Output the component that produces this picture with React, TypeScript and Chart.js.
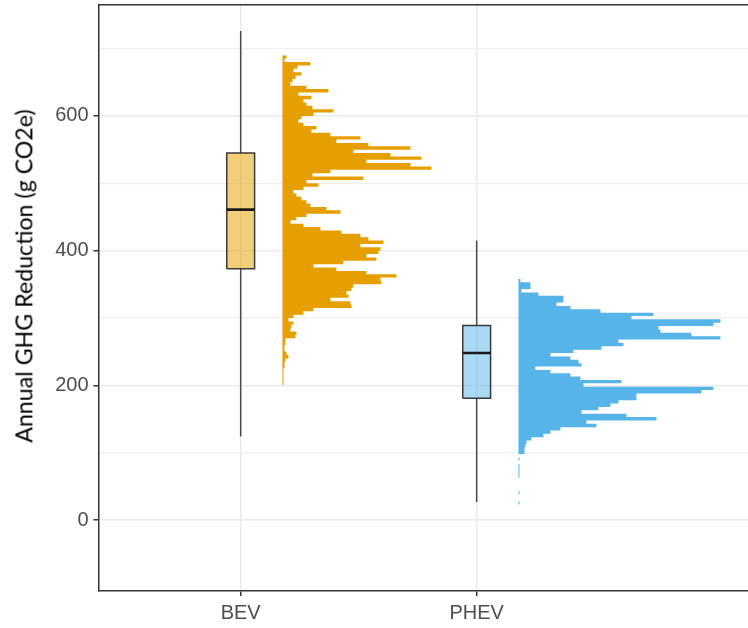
import React, { useEffect, useRef } from "react";
import { Chart, registerables } from "chart.js";

Chart.register(...registerables);

// ---------------- data ----------------
const CATEGORIES = ["BEV", "PHEV"];
const CATEGORY_POS = [1, 2];
const Y_TICKS = [0, 200, 400, 600];

// box plot statistics (g CO2e)
const WHISKER_LOW = [124, 27];
const Q1 = [373, 181];
const MEDIAN = [461, 248];
const Q3 = [545, 289];
const WHISKER_HIGH = [726, 415];

// histograms: bin width 5, counts listed from the top bin downwards
const BIN_WIDTH = 5;
const BEV_HIST_TOP = 690;
const BEV_COUNTS = [
  4, 2, 28, 15, 11, 19, 13, 10, 8, 24,
  46, 16, 29, 21, 24, 30, 51, 31, 19, 16,
  21, 34, 29, 48, 78, 54, 86, 128, 71, 108,
  139, 84, 128, 149, 48, 30, 81,
  24, 36, 21, 11, 14, 19, 24, 28, 44, 58,
  24, 14, 8, 21, 38, 59, 78, 86, 101, 78,
  98, 96, 84, 94, 61, 31, 54, 84, 114, 98,
  99, 71, 69, 64, 66, 48, 68, 69, 31, 21,
  11, 6, 11, 9, 8, 14, 13, 3, 3, 2,
  2, 4, 6, 3, 2, 2, 1, 1, 1, 1, 1,
];
const PHEV_HIST_TOP = 358;
const PHEV_COUNTS = [
  2, 12, 12, 3, 20, 45, 45, 38, 52, 82,
  135, 113, 202, 195, 140, 142, 173, 202, 100, 105,
  83, 55, 32, 52, 60, 63, 17, 32, 52, 62,
  103, 65, 195, 183, 118, 118, 100, 92, 80, 63,
  108, 138, 68, 78, 42, 32, 25, 13, 8, 7,
  6, 6, 0, 1, 0, 1, 1, 1, 1, 0,
  0, 0, 0, 1, 0, 0, 1,
];

// ---------------- styling / layout constants ----------------
const BOX_HALF = 0.059;
const HIST_OFFSET = 0.177;
const HIST_SCALE = 1 / 236;
const X_MIN = 0.3975;
const X_MAX = 3.243;
const Y_MIN = -105.3;
const Y_MAX = 765.5;

const HIST_COLORS = ["#E69F00", "#56B4E9"];
const BOX_COLORS = ["rgba(230,159,0,0.52)", "rgba(86,180,233,0.5)"];
const TICK_FONT = { family: "'Liberation Sans', Arial, sans-serif", size: 20 };

function histOutline(base: number, top: number, counts: number[]) {
  const pts: { x: number; y: number }[] = [{ x: base, y: top }];
  counts.forEach((c, i) => {
    const hi = top - i * BIN_WIDTH;
    const lo = hi - BIN_WIDTH;
    pts.push({ x: base + c * HIST_SCALE, y: hi });
    pts.push({ x: base + c * HIST_SCALE, y: lo });
  });
  pts.push({ x: base, y: top - counts.length * BIN_WIDTH });
  return pts;
}

function buildDatasets() {
  const ds: any[] = [];
  const common = { pointRadius: 0, tension: 0, xAxisID: "x", yAxisID: "y" };
  CATEGORY_POS.forEach((c, i) => {
    ds.push({
      ...common,
      data: [
        { x: c - BOX_HALF, y: MEDIAN[i] },
        { x: c + BOX_HALF, y: MEDIAN[i] },
      ],
      borderColor: "#1a1a1a",
      borderWidth: 2.6,
      fill: false,
    });
    ds.push({
      ...common,
      data: [
        { x: c - BOX_HALF, y: Q1[i] },
        { x: c + BOX_HALF, y: Q1[i] },
        { x: c + BOX_HALF, y: Q3[i] },
        { x: c - BOX_HALF, y: Q3[i] },
        { x: c - BOX_HALF, y: Q1[i] },
      ],
      borderColor: "#3a3a3a",
      borderWidth: 1.5,
      fill: false,
    });
    ds.push({
      ...common,
      data: [
        { x: c - BOX_HALF, y: Q3[i] },
        { x: c + BOX_HALF, y: Q3[i] },
      ],
      borderColor: "rgba(0,0,0,0)",
      borderWidth: 0,
      backgroundColor: BOX_COLORS[i],
      fill: { value: Q1[i] },
    });
    ds.push({
      ...common,
      data: [
        { x: c, y: Q3[i] },
        { x: c, y: WHISKER_HIGH[i] },
      ],
      borderColor: "#4a4a4a",
      borderWidth: 1.5,
      fill: false,
    });
    ds.push({
      ...common,
      data: [
        { x: c, y: WHISKER_LOW[i] },
        { x: c, y: Q1[i] },
      ],
      borderColor: "#4a4a4a",
      borderWidth: 1.5,
      fill: false,
    });
  });
  const hists = [
    { top: BEV_HIST_TOP, counts: BEV_COUNTS },
    { top: PHEV_HIST_TOP, counts: PHEV_COUNTS },
  ];
  hists.forEach((h, i) => {
    const base = CATEGORY_POS[i] + HIST_OFFSET;
    ds.push({
      ...common,
      indexAxis: "y",
      data: histOutline(base, h.top, h.counts),
      borderColor: "rgba(0,0,0,0)",
      borderWidth: 0,
      backgroundColor: HIST_COLORS[i],
      fill: { value: base },
    });
  });
  return ds;
}

const zeroPad = (s: any) => {
  s.paddingTop = 0;
  s.paddingBottom = 0;
  s.paddingLeft = 0;
  s.paddingRight = 0;
};

export default function App() {
  const canvasRef = useRef<HTMLCanvasElement | null>(null);

  useEffect(() => {
    if (!canvasRef.current) return;
    const chart = new Chart(canvasRef.current, {
      type: "line",
      data: { datasets: buildDatasets() },
      options: {
        animation: false,
        responsive: true,
        maintainAspectRatio: false,
        events: [],
        layout: { padding: 0 },
        plugins: {
          legend: { display: false },
          tooltip: { enabled: false },
        },
        scales: {
          x: {
            type: "linear",
            position: "bottom",
            min: X_MIN,
            max: X_MAX,
            afterBuildTicks: (s: any) => {
              s.ticks = CATEGORY_POS.map((v) => ({ value: v }));
            },
            afterFit: (s: any) => {
              s.height = 37;
              zeroPad(s);
            },
            ticks: {
              autoSkip: false,
              maxRotation: 0,
              padding: 5,
              color: "#4d4d4d",
              font: TICK_FONT,
              callback: (v: any) => {
                const idx = CATEGORY_POS.indexOf(Number(v));
                return idx >= 0 ? CATEGORIES[idx] : "";
              },
            },
            grid: {
              color: "#ebebeb",
              lineWidth: 1.5,
              tickColor: "#333333",
              tickLength: 5,
              tickWidth: 1.5,
            },
            border: { color: "#333333", width: 1.5 },
          },
          x2: {
            type: "linear",
            position: "top",
            min: X_MIN,
            max: X_MAX,
            ticks: { display: false },
            grid: { display: false, drawTicks: false },
            border: { display: true, color: "#333333", width: 1.5 },
            afterFit: (s: any) => {
              s.height = 4.5;
              zeroPad(s);
            },
          },
          y: {
            type: "linear",
            min: Y_MIN,
            max: Y_MAX,
            afterFit: (s: any) => {
              s.width = 98.5;
              zeroPad(s);
            },
            ticks: {
              stepSize: 100,
              includeBounds: false,
              autoSkip: false,
              padding: 5,
              color: "#4d4d4d",
              font: TICK_FONT,
              callback: (v: any) => (Y_TICKS.includes(Number(v)) ? String(v) : ""),
            },
            grid: {
              color: (ctx: any) => {
                const v = ctx.tick ? ctx.tick.value : 0;
                if (v < -50) return "rgba(0,0,0,0)";
                return Y_TICKS.includes(v) ? "#ebebeb" : "#f0f0f0";
              },
              lineWidth: (ctx: any) => {
                const v = ctx.tick ? ctx.tick.value : 0;
                return Y_TICKS.includes(v) ? 1.5 : 1.2;
              },
              tickColor: (ctx: any) => {
                const v = ctx.tick ? ctx.tick.value : 0;
                return Y_TICKS.includes(v) ? "#333333" : "rgba(0,0,0,0)";
              },
              tickLength: 5,
              tickWidth: 1.5,
            },
            border: { color: "#333333", width: 1.5 },
          },
        },
      } as any,
    });
    return () => chart.destroy();
  }, []);

  return (
    <div
      style={{
        position: "fixed",
        left: 0,
        top: 0,
        width: 748,
        height: 628,
        overflow: "hidden",
        background: "#ffffff",
      }}
    >
      <div style={{ position: "absolute", left: 0, top: 0, width: 770, height: 628 }}>
        <canvas ref={canvasRef} />
      </div>
      <div
        style={{
          position: "absolute",
          left: 24,
          top: 276,
          transform: "translate(-50%, -50%) rotate(-90deg)",
          whiteSpace: "nowrap",
          fontFamily: "Lato, 'Noto Sans', sans-serif",
          fontSize: 23.2,
          lineHeight: 1,
          color: "#000000",
        }}
      >
        Annual GHG Reduction (g CO2e)
      </div>
    </div>
  );
}
